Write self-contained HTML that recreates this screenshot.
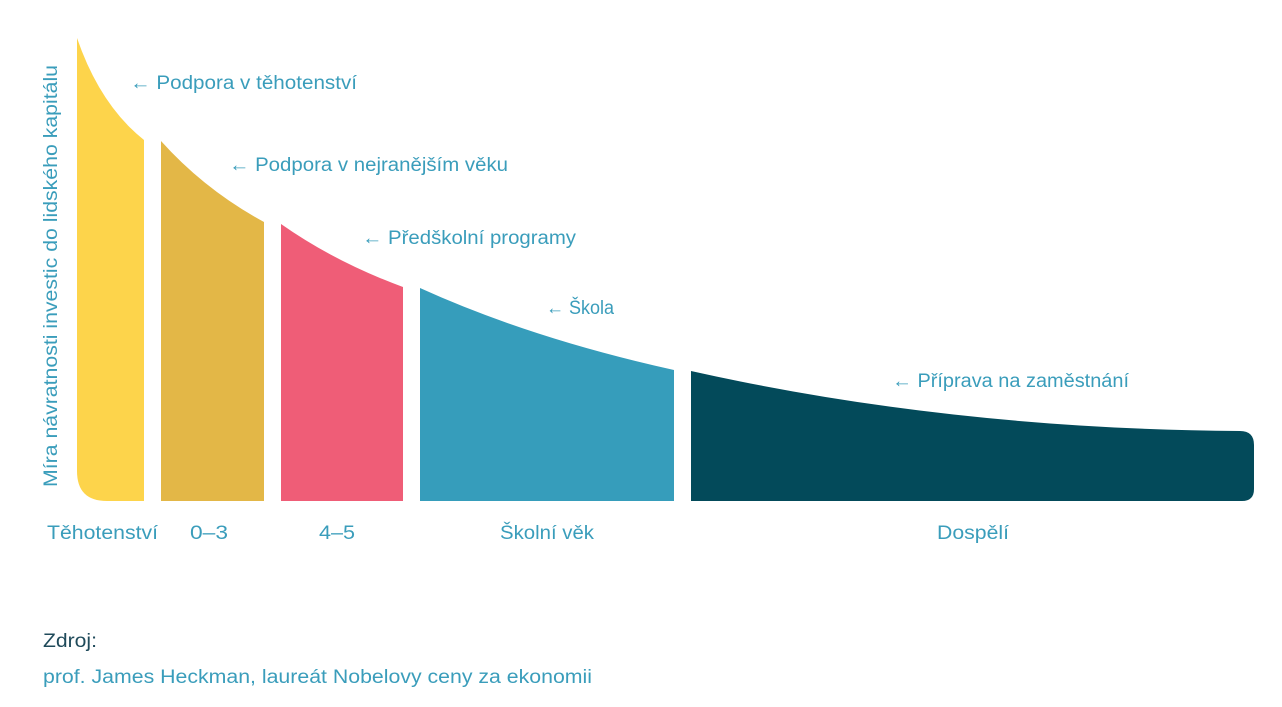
<!DOCTYPE html>
<html><head><meta charset="utf-8"><style>
html,body{margin:0;padding:0;background:#fff;width:1282px;height:707px;overflow:hidden}
svg{display:block}
text{font-family:"Liberation Sans","DejaVu Sans",sans-serif;font-size:19px;fill:#3a9dbb}
</style></head><body>
<svg width="1282" height="707" viewBox="0 0 1282 707">
<path d="M77,38 Q100,105 144,140 L144,501 L107,501 Q77,501 77,471 Z" fill="#fdd44b"/>
<path d="M161,141 Q205,190 264,222 L264,501 L161,501 Z" fill="#e3b747"/>
<path d="M281,224 Q335,262 403,287 L403,501 L281,501 Z" fill="#ef5d77"/>
<path d="M420,288 Q530,338 674,370 L674,501 L420,501 Z" fill="#369dbb"/>
<path d="M691,371 Q950,429 1240,431 Q1254,431 1254,445 L1254,489 Q1254,501 1242,501 L691,501 Z" fill="#034a5a"/>
<text transform="translate(57,487) rotate(-90)" textLength="422" lengthAdjust="spacingAndGlyphs">Míra návratnosti investic do lidského kapitálu</text>
<text x="130" y="89" textLength="227" lengthAdjust="spacingAndGlyphs">← Podpora v těhotenství</text>
<text x="229" y="171" textLength="279" lengthAdjust="spacingAndGlyphs">← Podpora v nejranějším věku</text>
<text x="362" y="244" textLength="214" lengthAdjust="spacingAndGlyphs">← Předškolní programy</text>
<text x="546" y="314" textLength="68" lengthAdjust="spacingAndGlyphs">← Škola</text>
<text x="892" y="387" textLength="237" lengthAdjust="spacingAndGlyphs">← Příprava na zaměstnání</text>
<text x="47" y="539" textLength="111" lengthAdjust="spacingAndGlyphs">Těhotenství</text>
<text x="190" y="539" textLength="38" lengthAdjust="spacingAndGlyphs">0–3</text>
<text x="319" y="539" textLength="36" lengthAdjust="spacingAndGlyphs">4–5</text>
<text x="500" y="539" textLength="94" lengthAdjust="spacingAndGlyphs">Školní věk</text>
<text x="937" y="539" textLength="72" lengthAdjust="spacingAndGlyphs">Dospělí</text>
<text x="43" y="647" style="fill:#1f4a5a" textLength="54" lengthAdjust="spacingAndGlyphs">Zdroj:</text>
<text x="43" y="683" textLength="549" lengthAdjust="spacingAndGlyphs">prof. James Heckman, laureát Nobelovy ceny za ekonomii</text>
</svg>
</body></html>
